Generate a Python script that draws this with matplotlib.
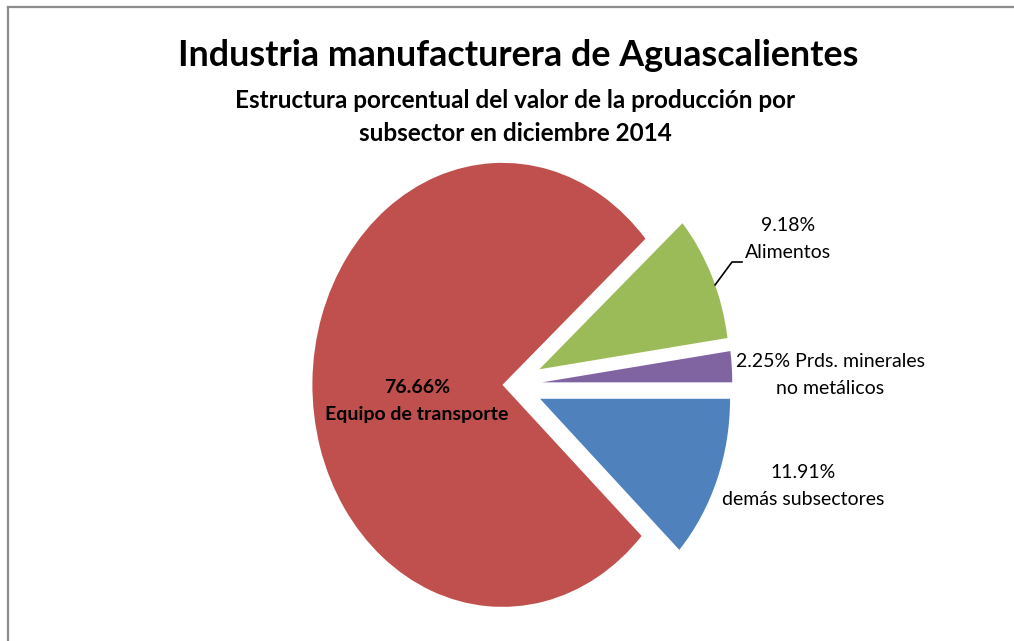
import matplotlib
matplotlib.use('Agg')
import matplotlib.pyplot as plt
from matplotlib.lines import Line2D
import numpy as np

plt.rcParams['font.family'] = ['Lato', 'DejaVu Sans']

# Data, counterclockwise starting at 0 degrees
sectores = ['Prds. minerales\nno metálicos', 'Alimentos', 'Equipo de transporte', 'demás subsectores']
porcentajes = [2.25, 9.18, 76.66, 11.91]
colores = ['#8064A2', '#9BBB59', '#C0504D', '#4F81BD']

titulo = 'Industria manufacturera de Aguascalientes'
subtitulo = 'Estructura porcentual del valor de la producción por\nsubsector en diciembre 2014'

W, H = 1014, 641
CX, CY = 510, 385     # pie centre in pixels
RX, RY = 190, 222     # stretched radius in pixels
explode = [0.17, 0.17, 0.04, 0.17]


def px(x):
    return (x - CX) / RX


def py(y):
    return (CY - y) / RY


fig = plt.figure(figsize=(W / 100, H / 100), dpi=100)
ax = fig.add_axes([0, 0, 1, 1])
ax.pie(porcentajes, colors=colores, startangle=0, counterclock=True,
       explode=explode, wedgeprops=dict(linewidth=0))
ax.set_aspect('auto')
ax.set_xlim(px(0), px(W))
ax.set_ylim(py(H), py(0))
ax.axis('off')

# Data labels
etiquetas = [f'{p:.2f}%\n{s}' for p, s in zip(porcentajes, sectores)]
etiquetas[0] = f'{porcentajes[0]:.2f}% {sectores[0]}'
pos = [(830, 375), (788, 239), (417, 401), (803, 486)]
for i, (txt, (x, y)) in enumerate(zip(etiquetas, pos)):
    ax.text(px(x), py(y), txt, ha='center', va='center', fontsize=14,
            linespacing=1.75, fontweight='bold' if i == 2 else 'normal')

# Leader line for Alimentos
a_mid = np.deg2rad((porcentajes[0] + porcentajes[1] / 2) * 3.6)
ex, ey = explode[1] * np.cos(a_mid), explode[1] * np.sin(a_mid)
x0, y0 = ex + np.cos(a_mid - 0.04), ey + np.sin(a_mid - 0.04)
ax.plot([x0, px(732), px(742)], [y0, py(262), py(262)], color='black', lw=1.2)

fig.text(518 / W, 1 - 55 / H, titulo, ha='center', va='center',
         fontsize=25.8, fontweight='bold')
fig.text(515 / W, 1 - 117 / H, subtitulo, ha='center', va='center',
         fontsize=17.5, fontweight='bold', linespacing=1.5)

# Chart border (partly cropped)
fig.add_artist(Line2D([8 / W, 1], [1 - 7 / H, 1 - 7 / H], color='#8c8c8c', lw=1.6))
fig.add_artist(Line2D([8 / W, 8 / W], [0, 1 - 7 / H], color='#8c8c8c', lw=1.6))

fig.savefig('out.png', dpi=100)
